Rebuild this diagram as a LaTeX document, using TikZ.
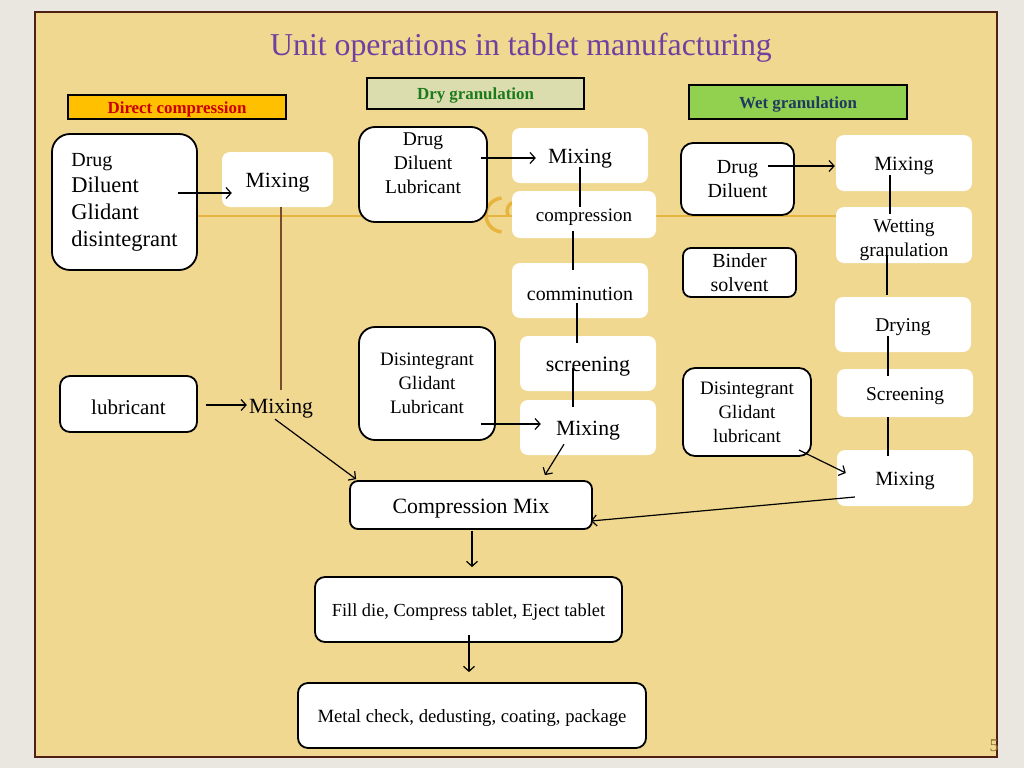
\documentclass[tikz,border=0pt]{standalone}
\usepackage{fontspec}
\setmainfont{Liberation Serif}
\usetikzlibrary{arrows.meta,calc}
\definecolor{outerbg}{HTML}{E9E7DF}
\definecolor{slidebg}{HTML}{F0D890}
\definecolor{slideborder}{HTML}{4F2014}
\definecolor{decorcol}{HTML}{E8B440}
\definecolor{titlecol}{HTML}{7040A0}
\definecolor{dcfill}{HTML}{FFC000}
\definecolor{dctext}{HTML}{CC0000}
\definecolor{dgfill}{HTML}{DCDDAE}
\definecolor{dgtext}{HTML}{1B7A1B}
\definecolor{wgfill}{HTML}{92D050}
\definecolor{wgtext}{HTML}{1F3A60}
\definecolor{brnline}{HTML}{7B4A2A}
\definecolor{pagecol}{HTML}{8A6A30}
\newcommand\fsz[2]{\fontsize{#1}{#2}\selectfont}
\newcommand\topstrut{\rule{0pt}{0.98em}}
\begin{document}
\begin{tikzpicture}[x=1pt,y=-1pt,
  bbox/.style={draw=black, line width=1.8pt, fill=white, rounded corners=#1, align=center, inner sep=0pt, font=\fsz{19.5}{24}, execute at begin node=\topstrut},
  bbox/.default=14pt,
  wbox/.style={fill=white, rounded corners=8pt, align=center, inner sep=0pt, font=\fsz{19.5}{24}, execute at begin node=\topstrut},
  hdr/.style={draw=black, line width=1.5pt, inner sep=0pt, font=\bfseries\fsz{16.9}{18}, execute at begin node=\topstrut},
  arr/.style={-{Straight Barb[length=5pt,width=11pt]}, line width=1.2pt},
  conn/.style={line width=1.2pt},
  plain/.style={inner sep=2pt, execute at begin node=\topstrut}]
\useasboundingbox (0,0) rectangle (1024,768);
\fill[outerbg] (0,0) rectangle (1024,768);
\draw[slideborder, line width=2pt, fill=slidebg] (35,12) rectangle (997,757);
% background decoration
\draw[decorcol, line width=1.6pt] (197,216) -- (836,216);
\draw[decorcol, line width=3.5pt] (503,215) ++(95:17) arc[start angle=95, end angle=265, radius=17];
\draw[decorcol, line width=3.5pt] (516,211) ++(150:9) arc[start angle=150, end angle=250, radius=9];

% title
\node[text=titlecol, font=\fsz{31.8}{34}] (title) at (521,48) {Unit operations in tablet manufacturing};

% headers
\node[hdr, fill=dcfill, text=dctext, minimum width=218pt, minimum height=24pt] (h1) at (177,107) {Direct compression};
\node[hdr, fill=dgfill, text=dgtext, minimum width=217pt, minimum height=31pt] (h2) at (475.5,93.5) {Dry granulation};
\node[hdr, fill=wgfill, text=wgtext, minimum width=218pt, minimum height=34pt] (h3) at (798,102) {Wet granulation};

% Direct compression
\node[bbox=18pt, minimum width=145pt, minimum height=136pt, align=left, font=\fsz{22.5}{26.7}] (a1) at (124.5,202)
  {{\fsz{20}{26.7}Drug}\\Diluent\\Glidant\\disintegrant};
\node[wbox, minimum width=111pt, minimum height=55pt, font=\fsz{21.7}{24}] (a2) at (277.5,179.5) {Mixing};
\node[plain, font=\fsz{21.7}{24}] (a3) at (281,405) {Mixing};
\node[bbox=10pt, minimum width=137pt, minimum height=56pt, font=\fsz{21}{24}] (a4) at (128.5,404) {lubricant};

% Dry granulation
\node[bbox=16pt, minimum width=128pt, minimum height=95pt] (b1) at (423,174.5) {Drug\\Diluent\\Lubricant\rule[-22pt]{0pt}{0pt}};
\node[wbox, minimum width=136pt, minimum height=55pt, font=\fsz{21.7}{24}] (b2) at (580,155.5) {Mixing};
\node[wbox, minimum width=144pt, minimum height=47pt, font=\fsz{19}{24}] (b3) at (584,214.5) {compression};
\node[wbox, minimum width=136pt, minimum height=55pt, font=\fsz{19.9}{24}] (b4) at (580,290.5) {comminution};
\node[wbox, minimum width=136pt, minimum height=55pt, font=\fsz{22}{24}] (b5) at (588,363.5) {screening};
\node[wbox, minimum width=136pt, minimum height=55pt, font=\fsz{21.7}{24}] (b6) at (588,427.5) {Mixing};
\node[bbox=16pt, minimum width=136pt, minimum height=113pt, font=\fsz{19}{24}] (b7) at (427,383.5) {Disintegrant\\Glidant\\Lubricant};

% Wet granulation
\node[bbox=12pt, minimum width=113pt, minimum height=72pt, font=\fsz{20}{24}] (c1) at (737.5,179) {Drug\\Diluent};
\node[wbox, minimum width=136pt, minimum height=56pt, font=\fsz{20.2}{24}] (c2) at (904,163) {Mixing};
\node[wbox, minimum width=136pt, minimum height=56pt] (c3) at (904,235) {\rule{0pt}{1.15em}Wetting\\granulation};
\node[bbox=8pt, minimum width=113pt, minimum height=49pt, font=\fsz{20}{24}] (c4) at (739.5,272.5) {Binder\\solvent};
\node[wbox, minimum width=136pt, minimum height=55pt] (c5) at (903,324.5) {Drying};
\node[wbox, minimum width=136pt, minimum height=48pt] (c6) at (905,393) {Screening};
\node[wbox, minimum width=136pt, minimum height=56pt, font=\fsz{20.2}{24}] (c7) at (905,478) {Mixing};
\node[bbox=12pt, minimum width=128pt, minimum height=88pt, font=\fsz{19}{24}] (c8) at (747,412) {Disintegrant\\Glidant\\lubricant};

% Final steps
\node[bbox=8pt, minimum width=242pt, minimum height=48pt, font=\fsz{21.8}{24}] (d1) at (471,505) {Compression Mix};
\node[bbox=10pt, minimum width=307pt, minimum height=65pt, font=\fsz{18.4}{24}] (d2) at (468.5,609.5) {Fill die, Compress tablet, Eject tablet};
\node[bbox=10pt, minimum width=348pt, minimum height=65pt, font=\fsz{18.7}{24}] (d3) at (472,715.5) {Metal check, dedusting, coating, package};

\node[text=pagecol, font=\fsz{18}{20}, inner sep=0pt] (pg) at (994,746) {5};

% connectors: direct compression
\draw[arr] ($(a1.east)+(-20,-9)$) -- ($(a2.west)+(10,13.5)$);
\draw[brnline, line width=1.2pt] (a3.north |- a2.south) -- (a3.north);
\draw[arr] ($(a4.east)+(8,1)$) -- (a3.west);
\draw[arr] ($(a3.south)+(-6,-1)$) -- ($(d1.north west)+(7,-1)$);

% connectors: dry granulation
\draw[arr] ($(b1.east)+(-7,-16.5)$) -- ($(b2.west)+(24,2.5)$);
\draw[conn] ($(b2.center)+(0,11.5)$) -- ($(b3.north)+(-4,16)$);
\draw[conn] ($(b3.south)+(-11,-7)$) -- ($(b4.north)+(-7,7)$);
\draw[conn] ($(b4.south)+(-3,-15)$) -- ($(b5.north)+(-11,7)$);
\draw[conn] ($(b5.center)+(-15,4.5)$) -- ($(b6.north)+(-15,7)$);
\draw[arr] ($(b7.east)+(-15,40.5)$) -- ($(b6.west)+(21,-3.5)$);
\draw[arr] ($(b6.south)+(-24,-11)$) -- ($(d1.north east)+(-48,-5)$);

% connectors: wet granulation
\draw[arr] ($(c1.east)+(-27,-13)$) -- ($(c2.west)+(-1,3)$);
\draw[conn] ($(c2.center)+(-14,12)$) -- ($(c3.north)+(-14,7)$);
\draw[conn] ($(c3.south)+(-17,-8)$) -- ($(c5.north)+(-16,-2)$);
\draw[conn] ($(c5.center)+(-15,11.5)$) -- ($(c6.north)+(-17,7)$);
\draw[conn] ($(c6.south)+(-17,0)$) -- ($(c7.north)+(-17,6)$);
\draw[arr] ($(c8.east)+(-13,38)$) -- ($(c7.west)+(9,-5)$);
\draw[arr] ($(c7.west)+(18,19)$) -- ($(d1.east)+(-2,16)$);

% connectors: final
\draw[arr] ($(d1.south)+(1,1)$) -- ($(d2.north)+(3.5,-9)$);
\draw[arr] ($(d2.south)+(0.5,-8)$) -- ($(d3.north)+(-3,-10)$);
\end{tikzpicture}
\end{document}
